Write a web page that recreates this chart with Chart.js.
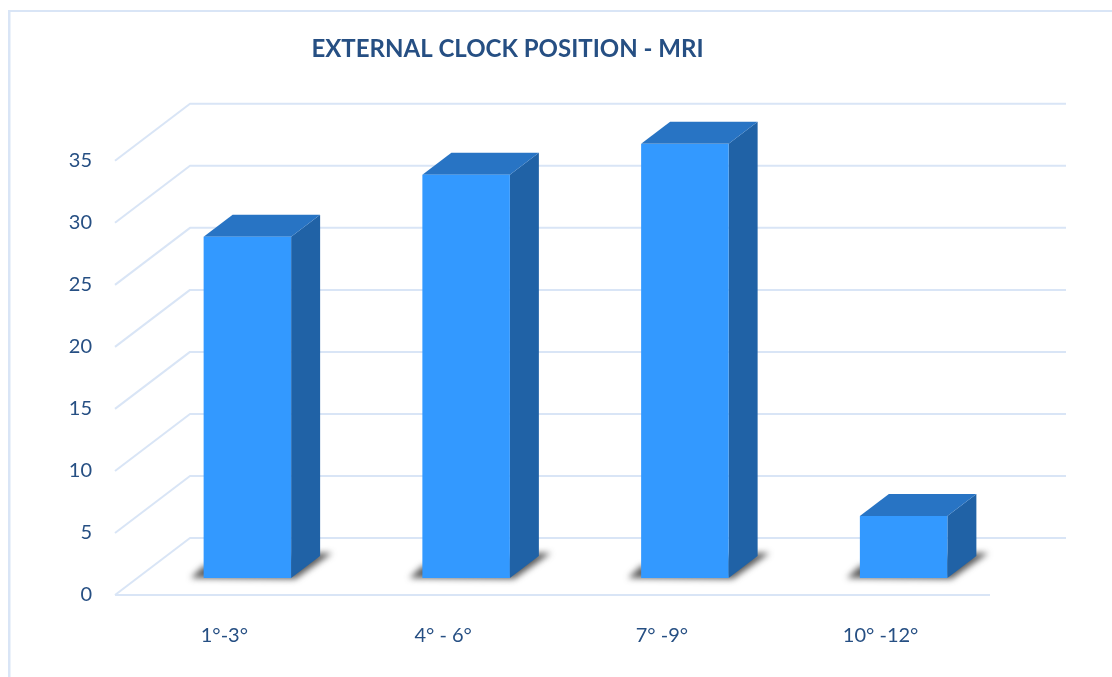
<!DOCTYPE html>
<html>
<head>
<meta charset="utf-8">
<title>External clock position - MRI</title>
<script src="https://cdn.jsdelivr.net/npm/chart.js@4"></script>
<style>
  html, body { margin: 0; padding: 0; background: #fff; overflow: hidden; }
  canvas { display: block; }
</style>
</head>
<body>
<canvas id="chart" width="1112" height="677"></canvas>
<script>
const categories = ['1°-3°', '4° - 6°', '7° -9°', '10° -12°'];
const cases = [27.5, 32.5, 35, 5];
const valueTicks = [0, 5, 10, 15, 20, 25, 30, 35];
const chartTitle = 'EXTERNAL CLOCK POSITION - MRI';

const FONT = 'Lato, Carlito, Calibri, sans-serif';
const TEXT = '#264f83';
const GRID = '#d9e5f6';
const FRONT = '#3399ff';
const SIDE = '#2062a6';
const TOP = '#2874c4';

// Oblique projection used for the floor, the walls and the box sides.
const wall = { dx: 75, dy: 57, right: 1066 };
const barLift = { dx: 23, dy: -17 };
const depth = { dx: 29, dy: 22 };

const perspective = {
  id: 'perspective',
  afterLayout(chart) {
    // Centre the heading over the drawing rather than over the canvas.
    chart.titleBlock.left = 25;
  },
  beforeDraw(chart) {
    const { ctx, width, height } = chart;
    ctx.save();
    ctx.fillStyle = '#fff';
    ctx.fillRect(0, 0, width, height);
    ctx.fillStyle = GRID;
    ctx.fillRect(8, 10, width - 8, 2);
    ctx.fillRect(8, 10, 2.5, height - 10);
    ctx.restore();
  },
  beforeDatasetsDraw(chart) {
    const { ctx, scales: { x, y } } = chart;

    // Wall lines: a slanted floor-to-wall run, then the level run along the back.
    ctx.save();
    ctx.strokeStyle = GRID;
    ctx.lineWidth = 2;
    ctx.lineJoin = 'round';
    y.ticks.forEach(t => {
      const py = y.getPixelForValue(t.value);
      ctx.beginPath();
      ctx.moveTo(x.left, py);
      ctx.lineTo(x.left + wall.dx, py - wall.dy);
      ctx.lineTo(wall.right, py - wall.dy);
      ctx.stroke();
    });
    const floor = y.getPixelForValue(0);
    ctx.beginPath();
    ctx.moveTo(x.left, floor);
    ctx.lineTo(x.right, floor);
    ctx.stroke();
    ctx.restore();

    // Everything from here on stands a little way back on the floor.
    ctx.save();
    ctx.translate(barLift.dx, barLift.dy);

    const bars = chart.getDatasetMeta(0).data;
    bars.forEach(bar => {
      const left = bar.x - bar.width / 2;
      const right = bar.x + bar.width / 2;
      const base = bar.base;

      // Soft cast shadow on the floor.
      ctx.save();
      ctx.filter = 'blur(3px)';
      ctx.fillStyle = 'rgba(50,50,50,0.8)';
      ctx.beginPath();
      ctx.moveTo(left - 13, base);
      ctx.lineTo(left, base - 12);
      ctx.lineTo(right + depth.dx, base - depth.dy - 3);
      ctx.lineTo(right + depth.dx + 12, base - depth.dy - 3);
      ctx.lineTo(right + 4, base + 1);
      ctx.closePath();
      ctx.fill();
      ctx.restore();

      // Right-hand face.
      ctx.fillStyle = SIDE;
      ctx.beginPath();
      ctx.moveTo(right, bar.y);
      ctx.lineTo(right + depth.dx, bar.y - depth.dy);
      ctx.lineTo(right + depth.dx, base - depth.dy);
      ctx.lineTo(right, base);
      ctx.closePath();
      ctx.fill();

      // Top face.
      ctx.fillStyle = TOP;
      ctx.beginPath();
      ctx.moveTo(left, bar.y);
      ctx.lineTo(left + depth.dx, bar.y - depth.dy);
      ctx.lineTo(right + depth.dx, bar.y - depth.dy);
      ctx.lineTo(right, bar.y);
      ctx.closePath();
      ctx.fill();
    });
  },
  afterDatasetsDraw(chart) {
    chart.ctx.restore();
  }
};

new Chart(document.getElementById('chart'), {
  type: 'bar',
  data: {
    labels: categories,
    datasets: [{
      data: cases,
      backgroundColor: FRONT,
      categoryPercentage: 0.4,
      barPercentage: 1
    }]
  },
  plugins: [perspective],
  options: {
    responsive: false,
    animation: false,
    layout: { padding: { left: 0, right: 122, top: 0, bottom: 0 } },
    plugins: {
      legend: { display: false },
      tooltip: { enabled: false },
      title: {
        display: true,
        text: chartTitle,
        color: TEXT,
        font: { family: FONT, size: 24, weight: 'bold', lineHeight: 1.2 },
        padding: { top: 35, bottom: 97 }
      }
    },
    scales: {
      x: {
        grid: { display: false, drawTicks: false },
        border: { display: false },
        ticks: { color: TEXT, font: { family: FONT, size: 20 }, padding: 29, maxRotation: 0 },
        afterFit(s) { s.height = 82; }
      },
      y: {
        min: 0,
        max: 35,
        afterBuildTicks(s) { s.ticks = valueTicks.map(value => ({ value })); },
        grid: { display: false, drawTicks: false },
        border: { display: false },
        ticks: { color: TEXT, font: { family: FONT, size: 20 }, padding: 23 },
        afterFit(s) { s.width = 115; }
      }
    }
  }
});
</script>
</body>
</html>
